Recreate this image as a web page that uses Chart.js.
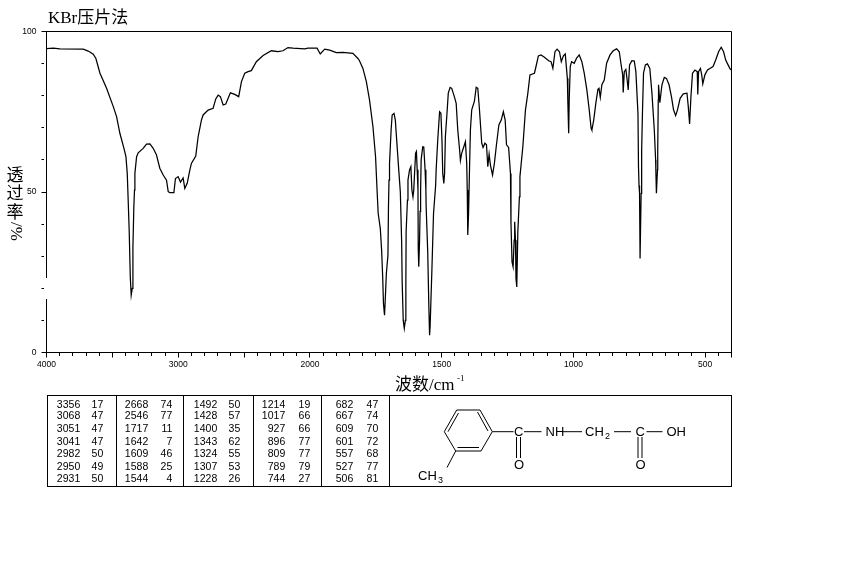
<!DOCTYPE html>
<html>
<head>
<meta charset="utf-8">
<title>KBr压片法</title>
<script src="https://cdn.jsdelivr.net/npm/chart.js@4"></script>
<style>
body { margin: 0; background: #fff; }
#wrap { position: relative; width: 850px; height: 567px; overflow: hidden; }
#myChart { position: absolute; left: 0; top: 0; }
#peaks { position: absolute; left: 46.5px; top: 395px; width: 685px; height: 92px; border: 1px solid #000; box-sizing: border-box; }
#peaks i { position: absolute; top: 0; bottom: 0; width: 1px; background: #000; }
#peaks span { position: absolute; font: 10.5px "Liberation Sans", sans-serif; letter-spacing: 0.1px; text-align: right; width: 30px; color: #000; }
#mol { position: absolute; left: 0; top: 0; }
#mol text { font: 13px "Liberation Sans", sans-serif; fill: #000; }
#mol line { stroke: #000; stroke-width: 1; }
</style>
</head>
<body>
<div id="wrap">
  <canvas id="myChart" width="850" height="567"></canvas>
  <div id="peaks"></div>
  <svg id="mol" width="850" height="567">
    <line x1="456.7" y1="410" x2="480" y2="410"/>
    <line x1="480" y1="410" x2="492.3" y2="431.7"/>
    <line x1="477.5" y1="412" x2="488" y2="431"/>
    <line x1="492.3" y1="431.7" x2="481" y2="451"/>
    <line x1="481" y1="451" x2="455.7" y2="451"/>
    <line x1="479" y1="447.5" x2="457.5" y2="447.5"/>
    <line x1="455.7" y1="451" x2="444.3" y2="431.7"/>
    <line x1="444.3" y1="431.7" x2="456.7" y2="410"/>
    <line x1="448" y1="431.7" x2="458.5" y2="413"/>
    <line x1="492.3" y1="431.7" x2="513.5" y2="431.7"/>
    <line x1="455.7" y1="451" x2="447" y2="467.5"/>
    <line x1="524" y1="431.7" x2="541.5" y2="431.7"/>
    <line x1="562" y1="431.7" x2="582" y2="431.7"/>
    <line x1="614" y1="431.7" x2="631" y2="431.7"/>
    <line x1="646.5" y1="431.7" x2="662.5" y2="431.7"/>
    <line x1="516.5" y1="437" x2="516.5" y2="458"/>
    <line x1="520.5" y1="437" x2="520.5" y2="458"/>
    <line x1="638" y1="437" x2="638" y2="458"/>
    <line x1="642" y1="437" x2="642" y2="458"/>
    <text x="514" y="436">C</text>
    <text x="545.5" y="436">NH</text>
    <text x="585" y="436">CH</text>
    <text x="605" y="439" style="font-size:9px">2</text>
    <text x="635.5" y="436">C</text>
    <text x="666.5" y="436">OH</text>
    <text x="514" y="469">O</text>
    <text x="635.5" y="469">O</text>
    <text x="418" y="480">CH</text>
    <text x="438" y="483" style="font-size:9px">3</text>
  </svg>
</div>
<script>
// spectrum: wavenumber (cm-1) and % transmittance
const waveNumbers = [
  4000, 3948, 3898, 3721, 3683, 3645, 3625, 3594, 3544, 3493, 3468, 3443, 3412, 3397, 3387, 3380,
  3372, 3364, 3357, 3349, 3344, 3337, 3332, 3329, 3316, 3304, 3266, 3241, 3215, 3190, 3165, 3140,
  3114, 3089, 3076, 3064, 3033, 3021, 3001, 2983, 2963, 2950, 2932, 2912, 2900, 2867, 2849, 2824,
  2811, 2773, 2735, 2715, 2697, 2680, 2659, 2639, 2604, 2571, 2541, 2520, 2495, 2470, 2445, 2407,
  2356, 2293, 2242, 2205, 2167, 2129, 2040, 2015, 1973, 1961, 1944, 1925, 1900, 1875, 1837, 1818,
  1812, 1799, 1786, 1774, 1761, 1751, 1745, 1741, 1733, 1728, 1724, 1721, 1717, 1714, 1710, 1704,
  1702, 1700, 1698, 1692, 1688, 1681, 1676, 1670, 1663, 1657, 1652, 1650, 1646, 1642, 1638, 1636,
  1635, 1630, 1628, 1622, 1617, 1613, 1609, 1606, 1603, 1599, 1596, 1593, 1590, 1589, 1587, 1584,
  1582, 1580, 1578, 1572, 1568, 1563, 1560, 1559, 1553, 1549, 1546, 1544, 1537, 1531, 1523, 1521,
  1515, 1508, 1503, 1499, 1496, 1492, 1489, 1486, 1479, 1475, 1468, 1462, 1452, 1445, 1439, 1432,
  1429, 1424, 1416, 1410, 1405, 1403, 1401, 1398, 1395, 1391, 1386, 1376, 1369, 1363, 1357, 1348,
  1343, 1336, 1330, 1325, 1320, 1315, 1307, 1300, 1293, 1283, 1274, 1266, 1259, 1254, 1246, 1239,
  1237, 1233, 1229, 1225, 1223, 1220, 1218, 1215, 1211, 1205, 1203, 1192, 1182, 1173, 1165, 1148,
  1142, 1133, 1123, 1110, 1094, 1085, 1078, 1070, 1062, 1053, 1046, 1038, 1031, 1023, 1021, 1018,
  1016, 1012, 1007, 997, 988, 978, 968, 959, 949, 940, 933, 930, 923, 915, 907, 903,
  898, 892, 883, 874, 861, 849, 836, 826, 818, 813, 811, 807, 801, 796, 792, 787,
  778, 769, 763, 755, 753, 751, 749, 747, 743, 741, 738, 734, 727, 719, 710, 702,
  693, 688, 687, 685, 681, 680, 678, 677, 672, 664, 655, 647, 637, 628, 620, 612,
  605, 595, 583, 569, 564, 559, 554, 548, 539, 530, 528, 525, 518, 513, 509, 501,
  491, 482, 470, 460, 449, 439, 430, 422, 413, 405, 400
];
const transmittance = [
  94.7, 94.8, 94.6, 94.5, 93.9, 92.9, 91.6, 87.0, 82.3, 76.6, 73.5, 68.3, 63.6, 61.0, 55.8, 47.5,
  37.6, 23.6, 17.9, 20.0, 32.9, 45.4, 50.6, 55.8, 61.0, 62.2, 63.6, 64.9, 65.0, 63.6, 61.5, 57.4,
  55.3, 53.7, 50.1, 49.8, 49.8, 54.2, 54.8, 53.1, 54.4, 51.1, 52.7, 56.8, 58.9, 61.2, 67.2, 72.4,
  74.0, 75.5, 76.1, 79.0, 80.2, 79.7, 77.1, 77.4, 80.9, 80.4, 79.7, 84.4, 87.0, 87.5, 87.8, 90.6,
  92.5, 94.0, 93.7, 94.0, 95.0, 94.8, 94.6, 94.8, 94.8, 93.0, 94.5, 94.2, 93.4, 93.5, 93.2, 91.6,
  90.9, 88.5, 84.4, 78.7, 70.4, 61.0, 50.0, 43.3, 38.6, 31.9, 23.6, 15.3, 11.6, 16.8, 24.6, 30.3,
  45.4, 53.7, 58.9, 69.3, 74.0, 74.5, 72.4, 65.2, 56.9, 50.0, 34.5, 22.0, 10.0, 7.5, 10.0, 22.0,
  37.6, 47.5, 53.7, 56.9, 57.9, 50.6, 48.5, 50.6, 55.8, 62.1, 62.6, 56.9, 50.6, 32.4, 26.7, 35.0,
  44.0, 50.6, 60.0, 64.1, 64.0, 56.9, 50.6, 45.4, 31.4, 15.3, 5.4, 8.0, 26.2, 43.3, 52.0, 56.9,
  66.2, 75.0, 74.5, 66.2, 55.8, 52.7, 55.8, 67.3, 75.6, 80.8, 82.6, 82.3, 79.7, 77.6, 69.3, 63.1,
  59.8, 62.1, 64.1, 65.7, 58.9, 50.6, 36.6, 43.3, 54.8, 69.3, 75.6, 78.2, 82.6, 82.3, 76.1, 65.2,
  63.9, 65.2, 64.7, 57.9, 61.8, 58.4, 55.3, 58.9, 64.1, 70.9, 72.4, 75.0, 72.4, 64.7, 63.9, 55.8,
  40.2, 28.2, 26.7, 35.0, 40.7, 35.0, 23.0, 20.4, 37.6, 48.5, 54.8, 64.1, 75.6, 80.8, 86.5, 87.0,
  89.1, 92.4, 92.7, 92.0, 90.9, 90.6, 88.5, 93.7, 94.5, 93.7, 90.6, 92.4, 93.0, 85.4, 77.6, 68.3,
  78.7, 89.1, 90.6, 90.1, 91.7, 92.7, 90.6, 87.0, 81.8, 75.6, 69.9, 69.3, 72.4, 77.6, 82.0, 82.3,
  79.5, 83.4, 84.9, 90.1, 92.7, 94.0, 94.6, 93.7, 89.1, 86.5, 81.0, 87.5, 88.2, 84.9, 81.8, 89.6,
  90.9, 90.8, 87.5, 74.5, 57.9, 52.0, 49.6, 29.3, 49.6, 63.0, 74.5, 87.0, 89.6, 89.9, 88.5, 80.8,
  69.3, 60.0, 56.3, 49.6, 56.9, 63.1, 78.7, 83.4, 77.8, 83.4, 85.7, 85.4, 83.4, 79.7, 75.6, 73.8,
  75.6, 79.2, 80.6, 80.8, 76.6, 71.2, 79.7, 87.0, 88.0, 87.5, 80.4, 87.5, 88.5, 86.5, 83.7, 86.5,
  88.0, 88.5, 89.1, 91.1, 93.7, 95.1, 93.7, 91.1, 89.6, 88.3, 88.0
];

// axis labels
const xLabels = [4000, 3000, 2000, 1500, 1000, 500];
const xLongTicks = [4000, 3500, 3000, 2500, 2000, 1500, 1000, 500, 400];
const yLabels = [0, 50, 100];

// peak table, one list per printed column
const peakWaves = [
  [3356, 3068, 3051, 3041, 2982, 2950, 2931],
  [2668, 2546, 1717, 1642, 1609, 1588, 1544],
  [1492, 1428, 1400, 1343, 1324, 1307, 1228],
  [1214, 1017, 927, 896, 809, 789, 744],
  [682, 667, 609, 601, 557, 527, 506]
];
const peakValues = [
  [17, 47, 47, 47, 50, 49, 50],
  [74, 77, 11, 7, 46, 25, 4],
  [50, 57, 35, 62, 55, 53, 26],
  [19, 66, 66, 77, 77, 79, 27],
  [47, 74, 70, 72, 68, 77, 81]
];

// the printed axis runs at half scale from 4000 to 2000, then full scale down to 400
class SpectrumScale extends Chart.LinearScale {
  buildTicks() {
    const ticks = [];
    for (let v = 4000; v > 2000; v -= 100) ticks.push({ value: v });
    for (let v = 2000; v >= 400; v -= 50) ticks.push({ value: v });
    return ticks;
  }
  getPixelForValue(value) {
    const units = value >= 2000 ? (4000 - value) / 2 : 1000 + (2000 - value);
    return this.left + this.width * units / 2600;
  }
  getValueForPixel(pixel) {
    const units = (pixel - this.left) / this.width * 2600;
    return units <= 1000 ? 4000 - units * 2 : 2000 - (units - 1000);
  }
}
SpectrumScale.id = 'spectrum';
SpectrumScale.defaults = {};
Chart.register(SpectrumScale);

const CJK = '"Liberation Serif", "Noto Sans CJK SC", serif';

// frame, axis gap and the handwritten looking titles
const annotate = {
  id: 'annotate',
  afterDraw(chart) {
    const c = chart.ctx;
    const a = chart.chartArea;
    c.save();
    c.strokeStyle = '#000';
    c.lineWidth = 1;
    c.beginPath();
    c.moveTo(a.left, a.top);
    c.lineTo(a.right, a.top);
    c.lineTo(a.right, a.bottom);
    c.stroke();
    // the left axis is broken here in the original print
    c.fillStyle = '#fff';
    c.fillRect(a.left - 1.5, 278, 3, 21);

    c.fillStyle = '#000';
    c.textAlign = 'left';
    c.textBaseline = 'alphabetic';
    c.font = '17px ' + CJK;
    c.fillText('KBr压片法', 48, 23);
    c.fillText('波数/cm', 395, 390);
    c.font = '9px ' + CJK;
    c.fillText('-1', 457, 381);

    c.font = '17px ' + CJK;
    c.textAlign = 'center';
    c.fillText('透', 15, 181);
    c.fillText('过', 15, 199);
    c.fillText('率', 15, 218);
    c.translate(11, 222);
    c.rotate(Math.PI / 2);
    c.textAlign = 'left';
    c.fillText('/%', 0, 0);
    c.restore();
  }
};

const ctx = document.getElementById('myChart');
const myChart = new Chart(ctx, {
  type: 'line',
  data: {
    datasets: [{
      data: waveNumbers.map((w, i) => ({ x: w, y: transmittance[i] })),
      borderColor: '#000',
      borderWidth: 1.25,
      pointRadius: 0,
      tension: 0,
      fill: false
    }]
  },
  plugins: [annotate],
  options: {
    responsive: false,
    animation: false,
    layout: { padding: { left: 12.5, top: 31.5, right: 118.5, bottom: 174.5 } },
    plugins: { legend: { display: false }, tooltip: { enabled: false } },
    scales: {
      x: {
        type: 'spectrum',
        min: 400,
        max: 4000,
        afterFit: s => { s.height = 40; },
        border: { color: '#000', width: 1 },
        grid: {
          drawOnChartArea: false,
          tickLength: 5,
          tickColor: '#000',
          tickBorderDash: c => xLongTicks.includes(c.tick.value) ? [] : [3, 100]
        },
        ticks: {
          autoSkip: false,
          maxRotation: 0,
          padding: 2,
          color: '#000',
          font: { family: '"Liberation Sans"', size: 8.5 },
          callback: v => xLabels.includes(v) ? String(v) : ''
        }
      },
      y: {
        min: 0,
        max: 100,
        afterFit: s => { s.width = 34; },
        border: { color: '#000', width: 1 },
        grid: {
          drawOnChartArea: false,
          tickLength: 5,
          tickColor: '#000',
          tickBorderDash: c => yLabels.includes(c.tick.value) ? [] : [2.5, 100]
        },
        ticks: {
          stepSize: 10,
          padding: 5,
          color: '#000',
          font: { family: '"Liberation Sans"', size: 8.5 },
          callback: v => yLabels.includes(v) ? String(v) : ''
        }
      }
    }
  }
});

// peak table below the plot
const peaks = document.getElementById('peaks');
const dividers = [68, 135.5, 205.5, 273, 341.5];
const waveRight = [33, 101, 170, 238, 306];
const valueRight = [56, 125, 193, 263, 331];
const rowTops = [2, 13, 26, 39, 51, 64, 76];

dividers.forEach(x => {
  const line = document.createElement('i');
  line.style.left = x + 'px';
  peaks.appendChild(line);
});

function addCell(text, right, top) {
  const cell = document.createElement('span');
  cell.textContent = text;
  cell.style.left = (right - 30) + 'px';
  cell.style.top = top + 'px';
  peaks.appendChild(cell);
}

peakWaves.forEach((column, c) => {
  column.forEach((wave, r) => {
    addCell(wave, waveRight[c], rowTops[r]);
    addCell(peakValues[c][r], valueRight[c], rowTops[r]);
  });
});
</script>
</body>
</html>
